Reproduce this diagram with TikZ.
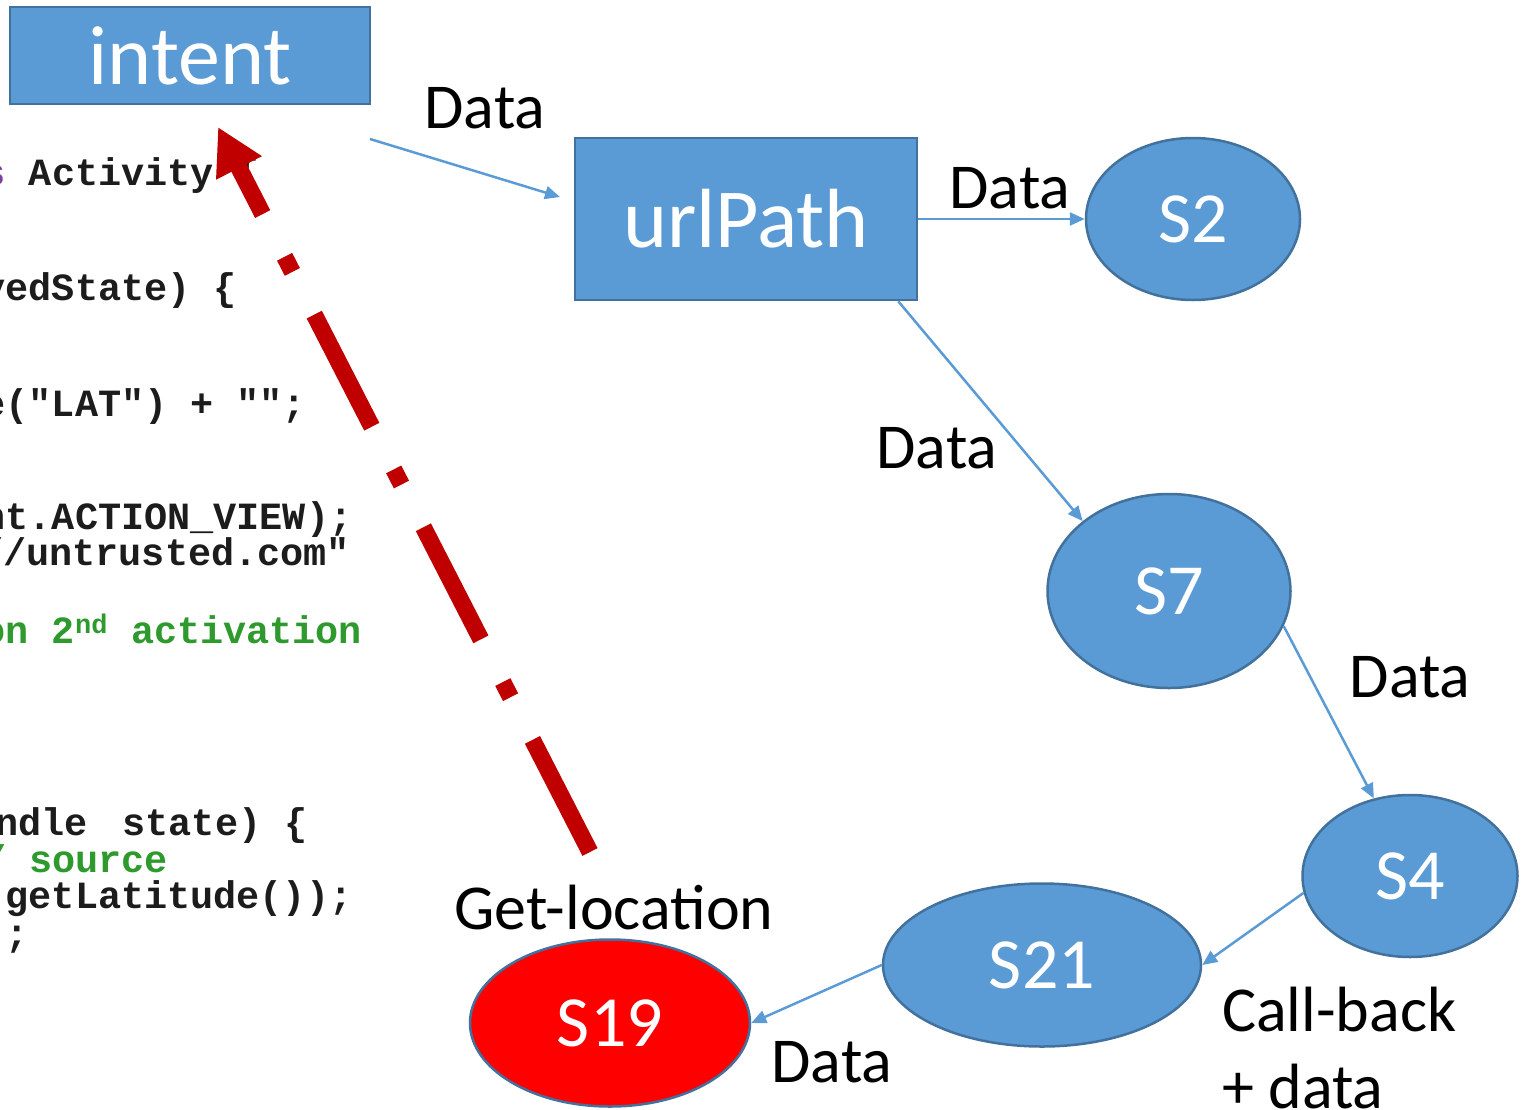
\documentclass[tikz,border=0pt]{standalone}
\usepackage{fontspec}
\setmainfont{Carlito}
\newfontfamily\codefont{Liberation Mono}
\usetikzlibrary{arrows.meta,shapes.geometric,positioning}
\definecolor{boxblue}{HTML}{5B9BD5}
\definecolor{edgeblue}{HTML}{41719C}
\definecolor{leakred}{HTML}{C00000}
\definecolor{codeink}{HTML}{1C1C1C}
\definecolor{codegreen}{HTML}{2E9A2E}
\definecolor{codekey}{HTML}{7F3F9F}
\tikzset{
  blockbox/.style={draw=edgeblue, fill=boxblue, line width=2.5pt, text=white,
    font=\fontsize{84}{100}\selectfont, inner sep=0pt},
  stmt/.style={ellipse, draw=edgeblue, fill=boxblue, line width=2.5pt, text=white,
    font=\fontsize{72}{86}\selectfont, inner sep=0pt},
  flow/.style={draw=boxblue, line width=2.5pt, -{Triangle[length=15pt,width=13pt]}},
  leak/.style={draw=leakred, line width=17pt,
    dash pattern=on 126pt off 48pt on 17pt off 48pt,
    -{Triangle[length=46pt,width=48pt]}},
  lbl/.style={font=\fontsize{64}{77}\selectfont, inner sep=0pt},
  codeline/.style={anchor=base west, inner sep=0pt, text=codeink,
    font=\codefont\bfseries\fontsize{38.5}{44}\selectfont}
}
\begin{document}
\begin{tikzpicture}[x=1pt,y=-1pt]
\useasboundingbox (0,0) rectangle (1526,1109);

\begin{scope}
\clip (0,0) rectangle (420,1109);
\node[codeline] (c1) at (-17.5,185) {\textcolor{codekey}{s} Activity \{};
\node[codeline] (c2) at (-17.5,300) {vedState) \{};
\node[codeline] (c3) at (-17.5,416) {e("LAT") + "";};
\node[codeline] (c4) at (-17.5,529) {nt.ACTION\_VIEW);};
\node[codeline] (c5) at (-20,565) {//untrusted.com"};
\node[codeline, text=codegreen] (c6) at (-17.5,643) {on 2\textsuperscript{nd} activation};
\node[codeline] (c7) at (-5,835) {ndle\kern12pt{} state) \{};
\node[codeline, text=codegreen] (c8) at (-17,872) {/ source};
\node[codeline] (c9) at (-17.5,908) {.getLatitude());};
\node[codeline] (c10) at (-17.5,946) {);};
\end{scope}

\node[blockbox, minimum width=360pt, minimum height=97pt] (intent) at (190,55.5) {intent};
\node[blockbox, minimum width=342pt, minimum height=162pt] (urlPath) at (746,219) {urlPath};
\node[stmt, minimum width=214pt, minimum height=162pt] (s2) at (1193,219) {S2};
\node[stmt, minimum width=243pt, minimum height=194pt] (s7) at (1169,591) {S7};
\node[stmt, minimum width=215pt, minimum height=162pt] (s4) at (1410,876) {S4};
\node[stmt, minimum width=318pt, minimum height=163pt] (s21) at (1042,965) {S21};
\node[stmt, fill=red, minimum width=280pt, minimum height=167pt] (s19) at (610,1023) {S19};

\node[lbl] (d1) at (485,108) {Data};
\node[lbl] (d2) at (1010,188) {Data};
\node[lbl] (d3) at (937,448) {Data};
\node[lbl] (d4) at (1410,677) {Data};
\node[lbl] (d5) at (832,1062) {Data};
\node[lbl, align=left, anchor=west] (cb) at (1222,1048) {Call-back\\+ data};
\node[lbl] (gl) at (614,908) {Get-location};

\coordinate (intentout) at (370,139);
\coordinate (urlin) at (560,197);
\draw[flow] (intentout) -- (urlin);
\draw[flow] (urlPath.east) -- (s2.west);
\draw[flow] ([xshift=-20pt]urlPath.south east) -- (s7.141);
\draw[flow] (s7.-17) -- (s4.115);
\draw[flow] (s4.189) -- (s21.east);
\draw[flow] (s21.west) -- (s19.east);

\coordinate (leakstart) at (590,852);
\coordinate (leakend) at (218,127);
\draw[leak] (leakstart) -- (leakend);
\end{tikzpicture}
\end{document}
